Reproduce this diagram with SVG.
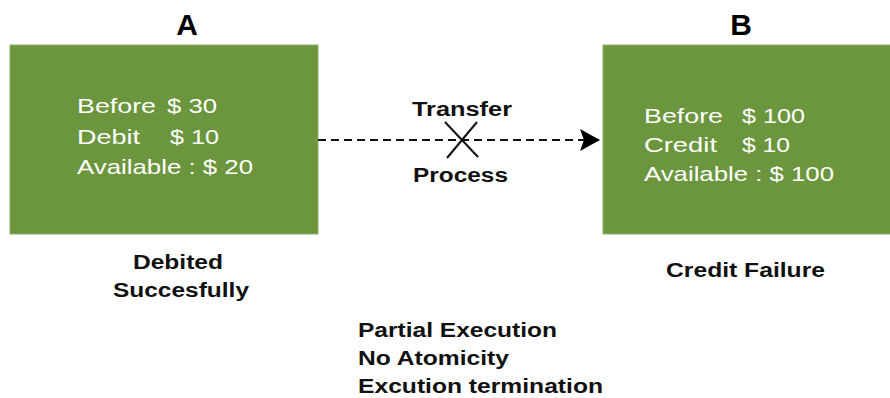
<svg xmlns="http://www.w3.org/2000/svg" width="890" height="398" viewBox="0 0 890 398">
<style>
.box{fill:#6b963d;stroke:#8fb06a;stroke-width:1}
.wt{font-family:"Liberation Sans",Arial,sans-serif;font-size:21px;fill:#ffffff}
.bt{font-family:"Liberation Sans",Arial,sans-serif;font-size:20px;fill:#111111;font-weight:bold}
.hd{font-family:"Liberation Sans",Arial,sans-serif;font-size:30px;fill:#000000;font-weight:bold;text-anchor:middle}
.conn{stroke:#111111;stroke-width:2;fill:none}
</style>
<defs>
<marker id="arr" markerWidth="20" markerHeight="22" refX="20" refY="11" orient="auto" markerUnits="userSpaceOnUse">
<path d="M0,0 L20,11 L0,22 L4,11 Z" fill="#000"/>
</marker>
</defs>
<rect width="890" height="398" fill="#ffffff"/>
<g id="nodeA">
<text class="hd" x="187" y="35">A</text>
<rect class="box" x="10" y="45" width="308" height="189"/>
<text class="wt" x="77" y="113" textLength="79" lengthAdjust="spacingAndGlyphs">Before</text>
<text class="wt" x="167" y="113" textLength="50" lengthAdjust="spacingAndGlyphs">$ 30</text>
<text class="wt" x="77" y="144" textLength="63" lengthAdjust="spacingAndGlyphs">Debit</text>
<text class="wt" x="170" y="144" textLength="49" lengthAdjust="spacingAndGlyphs">$ 10</text>
<text class="wt" x="77" y="174" textLength="176" lengthAdjust="spacingAndGlyphs">Available : $ 20</text>
</g>
<g id="nodeB">
<text class="hd" x="741" y="35">B</text>
<rect class="box" x="603" y="45" width="290" height="189"/>
<text class="wt" x="644" y="123" textLength="79" lengthAdjust="spacingAndGlyphs">Before</text>
<text class="wt" x="742" y="123" textLength="63" lengthAdjust="spacingAndGlyphs">$ 100</text>
<text class="wt" x="644" y="152" textLength="73" lengthAdjust="spacingAndGlyphs">Credit</text>
<text class="wt" x="742" y="152" textLength="48" lengthAdjust="spacingAndGlyphs">$ 10</text>
<text class="wt" x="644" y="181" textLength="190" lengthAdjust="spacingAndGlyphs">Available : $ 100</text>
</g>
<g id="connectors">
<line class="conn" x1="318" y1="140" x2="600" y2="140" stroke-dasharray="8,5" marker-end="url(#arr)"/>
<line class="conn" x1="445" y1="122" x2="478" y2="157"/>
<line class="conn" x1="477" y1="122" x2="447" y2="158"/>
<text class="bt" x="412" y="116" textLength="100" lengthAdjust="spacingAndGlyphs">Transfer</text>
<text class="bt" x="413" y="182" textLength="95" lengthAdjust="spacingAndGlyphs">Process</text>
</g>
<g id="labelA">
<text class="bt" x="133" y="269" textLength="90" lengthAdjust="spacingAndGlyphs">Debited</text>
<text class="bt" x="113" y="297" textLength="136" lengthAdjust="spacingAndGlyphs">Succesfully</text>
</g>
<g id="labelB">
<text class="bt" x="666" y="277" textLength="159" lengthAdjust="spacingAndGlyphs">Credit Failure</text>
</g>
<g id="notes">
<text class="bt" x="358" y="337" textLength="199" lengthAdjust="spacingAndGlyphs">Partial Execution</text>
<text class="bt" x="358" y="365" textLength="151" lengthAdjust="spacingAndGlyphs">No Atomicity</text>
<text class="bt" x="358" y="393" textLength="245" lengthAdjust="spacingAndGlyphs">Excution termination</text>
</g>
</svg>
